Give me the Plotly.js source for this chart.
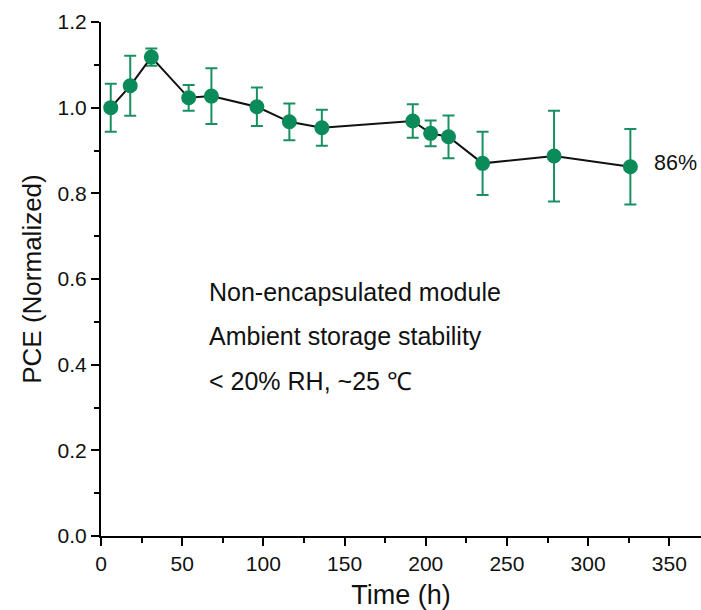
<!DOCTYPE html>
<html>
<head>
<meta charset="utf-8">
<script src="https://cdn.plot.ly/plotly-3.0.1.min.js"></script>
<style>html,body{margin:0;padding:0;background:#fff;}#chart{width:701px;height:610px;}</style>
</head>
<body>
<div id="chart"></div>
<script>
// Data
const timeH = [6, 18, 31, 54, 68, 96, 116, 136, 192, 203, 214, 235, 279, 326];
const pceNorm = [1.000, 1.051, 1.118, 1.023, 1.027, 1.002, 0.967, 0.953, 0.969, 0.940, 0.932, 0.870, 0.887, 0.862];
const pceErr = [0.056, 0.070, 0.020, 0.030, 0.065, 0.045, 0.043, 0.042, 0.039, 0.030, 0.050, 0.074, 0.106, 0.088];
const notes = ["Non-encapsulated module", "Ambient storage stability", "< 20% RH, ~25 ℃"];
const endLabel = "86%";

const FONT = "Liberation Sans, Arial, sans-serif";
const GREEN = "#0b8a5a";

const trace = {
  x: timeH, y: pceNorm, type: "scatter", mode: "lines+markers",
  line: {color: "#111", width: 2},
  marker: {color: GREEN, size: 15},
  error_y: {type: "data", array: pceErr, visible: true, color: "#1a8f62", thickness: 2, width: 6},
  cliponaxis: false, showlegend: false
};

const noteY = [0.4747, 0.389, 0.3016];
const annotations = notes.map((t, i) => ({
  text: t, xref: "paper", yref: "paper", x: 0.1767, y: noteY[i],
  xanchor: "left", yanchor: "middle", showarrow: false,
  font: {family: FONT, size: 25, color: "#111"}
}));
annotations.push({
  text: endLabel, xref: "paper", yref: "paper", x: 0.918, y: 0.7257,
  xanchor: "left", yanchor: "middle", showarrow: false,
  font: {family: FONT, size: 21.5, color: "#111"}
});

const axisCommon = {
  showline: true, linecolor: "#000", linewidth: 2, mirror: false,
  ticks: "outside", ticklen: 8, tickwidth: 2, tickcolor: "#000",
  showgrid: false, zeroline: false,
  tickfont: {family: FONT, size: 21, color: "#111"}
};

const layout = {
  width: 701, height: 610,
  margin: {l: 101, r: 0, t: 22, b: 74},
  paper_bgcolor: "#fff", plot_bgcolor: "#fff",
  xaxis: Object.assign({}, axisCommon, {
    range: [0, 369.5], tickvals: [0, 50, 100, 150, 200, 250, 300, 350],
    minor: {tickvals: [25, 75, 125, 175, 225, 275, 325], ticks: "outside", ticklen: 5, tickwidth: 2, tickcolor: "#000"},
    title: {text: "Time (h)", font: {family: FONT, size: 27, color: "#111"}, standoff: 12}
  }),
  yaxis: Object.assign({}, axisCommon, {
    range: [0, 1.2], tickvals: [0, 0.2, 0.4, 0.6, 0.8, 1.0, 1.2], tickformat: ".1f",
    minor: {tickvals: [0.1, 0.3, 0.5, 0.7, 0.9, 1.1], ticks: "outside", ticklen: 5, tickwidth: 2, tickcolor: "#000"},
    title: {text: "PCE (Normalized)", font: {family: FONT, size: 26, color: "#111"}, standoff: 8}
  }),
  annotations: annotations
};

Plotly.newPlot("chart", [trace], layout, {displayModeBar: false, staticPlot: true});
</script>
</body>
</html>
